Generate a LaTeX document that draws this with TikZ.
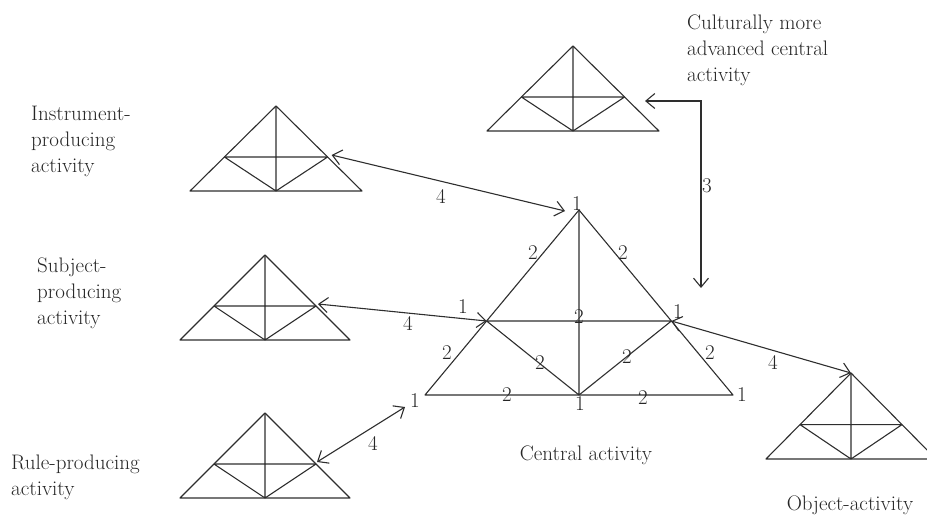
\documentclass[tikz,border=0pt]{standalone}
\usetikzlibrary{arrows.meta,calc}
\definecolor{LineClr}{rgb}{0.18,0.18,0.18}
\definecolor{TextClr}{rgb}{0.15,0.15,0.15}

% activity triangle: name, apex x, apex y, half width, height
\newcommand{\acttri}[5]{%
  \coordinate (#1-t) at (#2,#3);
  \coordinate (#1-l) at ($(#1-t)+(-#4,#5)$);
  \coordinate (#1-r) at ($(#1-t)+(#4,#5)$);
  \coordinate (#1-b) at ($(#1-t)+(0,#5)$);
  \coordinate (#1-ml) at ($(#1-t)!.6!(#1-l)$);
  \coordinate (#1-mr) at ($(#1-t)!.6!(#1-r)$);
  \draw[tri] (#1-t) -- (#1-l) -- (#1-r) -- cycle;
  \draw[tri] (#1-t) -- (#1-b) (#1-ml) -- (#1-mr) (#1-ml) -- (#1-b) -- (#1-mr);
}

\begin{document}
\begin{tikzpicture}[x=1pt,y=-1pt,
  tri/.style={line width=1.1pt,color=LineClr,line join=round},
  link/.style={line width=1.1pt,color=LineClr,{Straight Barb[length=9pt,width=15pt]}-{Straight Barb[length=9pt,width=15pt]}},
  num/.style={text=TextClr,inner sep=0pt,font=\fontsize{21}{25}\selectfont},
  caption/.style={text=TextClr,inner sep=0pt,align=left,font=\fontsize{21}{26}\selectfont}]
\clip (0,0) rectangle (927,517);

\acttri{cul}{573}{46}{86}{85}
\acttri{ins}{276}{106}{86}{85}
\acttri{sub}{265}{255}{85}{85}
\acttri{rul}{265}{413}{85}{85}
\acttri{obj}{851}{373}{85}{86}
\acttri{cen}{579}{210}{154}{185}

% arrow ends
\coordinate (insEnd) at ($(ins-mr)+(4,-2)$);
\coordinate (cenTop) at ($(cen-t)+(-14,1)$);
\coordinate (subEnd) at ($(sub-mr)+(2,-2)$);
\coordinate (rulEnd) at ($(rul-mr)+(1,-2)$);
\coordinate (cenLeft) at ($(cen-l)+(-20,12)$);
\coordinate (culEnd) at (645,101);
\coordinate (culDown) at (701,288);

\draw[link] (insEnd) -- (cenTop);
\draw[link] (subEnd) -- (cen-ml);
\draw[link] (rulEnd) -- (cenLeft);
\draw[link] (cen-mr) -- (obj-t);
\draw[link] (culEnd) -| (culDown);

\node[num] (n4a) at (441,196) {4};
\node[num] (n4b) at (408,323) {4};
\node[num] (n4c) at (373,443) {4};
\node[num] (n4d) at (773,362) {4};
\node[num] (n3) at (707,186) {3};

\node[num] (v1t) at (577,204) {1};
\node[num] (v1ml) at (463,307) {1};
\node[num] (v1mr) at (678,312) {1};
\node[num] (v1l) at (415,401) {1};
\node[num] (v1b) at (580,404) {1};
\node[num] (v1r) at (742,395) {1};

\node[num] (e2a) at (533,253) {2};
\node[num] (e2b) at (623,253) {2};
\node[num] (e2c) at (579,317) {2};
\node[num] (e2d) at (447,353) {2};
\node[num] (e2e) at (540,363) {2};
\node[num] (e2f) at (627,357) {2};
\node[num] (e2g) at (710,353) {2};
\node[num] (e2h) at (507,395) {2};
\node[num] (e2i) at (643,398) {2};

\node[caption,anchor=west] (culTxt) at (687,50) {Culturally more\\advanced central\\activity};
\node[caption,anchor=west] (insTxt) at (31,141) {Instrument-\\producing\\activity};
\node[caption,anchor=west] (subTxt) at (37,293) {Subject-\\producing\\activity};
\node[caption,anchor=west] (rulTxt) at (11,477) {Rule-producing\\activity};
\node[caption] (cenTxt) at (586,455) {Central activity};
\node[caption] (objTxt) at (850,505) {Object-activity};
\end{tikzpicture}
\end{document}
